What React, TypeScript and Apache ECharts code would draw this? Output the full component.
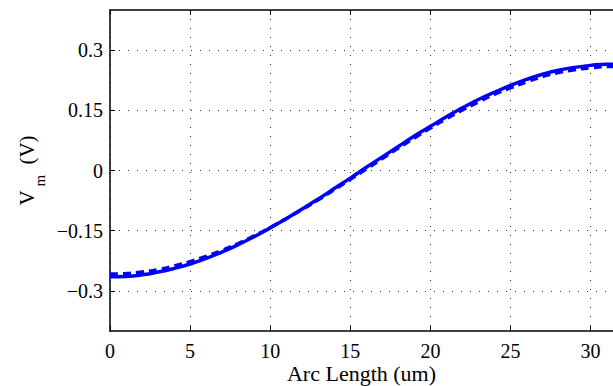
import React, { useEffect, useRef } from "react";
import * as echarts from "echarts";

const arcLength = [0, 1, 2, 3, 4, 5, 6, 7, 8, 9, 10, 11, 12, 13, 14, 15, 16, 17, 18, 19, 20, 21, 22, 23, 24, 25, 26, 27, 28, 29, 30, 31, 31.4];
const vmSolid = [-0.265, -0.264, -0.26, -0.253, -0.244, -0.233, -0.219, -0.203, -0.185, -0.165, -0.143, -0.12, -0.096, -0.071, -0.045, -0.019, 0.008, 0.034, 0.06, 0.086, 0.11, 0.134, 0.156, 0.177, 0.195, 0.212, 0.227, 0.24, 0.25, 0.257, 0.262, 0.265, 0.265];
const vmDashed = [-0.258, -0.257, -0.253, -0.247, -0.238, -0.227, -0.214, -0.199, -0.182, -0.163, -0.142, -0.12, -0.097, -0.073, -0.048, -0.022, 0.004, 0.03, 0.056, 0.081, 0.106, 0.129, 0.151, 0.171, 0.19, 0.206, 0.221, 0.234, 0.244, 0.251, 0.256, 0.259, 0.259];
const yTicks = [-0.3, -0.15, 0, 0.15, 0.3];

const FONT = "'Liberation Serif', 'Times New Roman', serif";

export default function App() {
  const ref = useRef<HTMLDivElement>(null);
  useEffect(() => {
    if (!ref.current) return;
    const chart = echarts.init(ref.current, undefined, { renderer: "svg" });
    const fmtY = (v: number) => {
      const s = Math.abs(v) < 1e-9 ? "0" : String(Math.round(v * 100) / 100);
      return s.replace("-", "\u2212");
    };
    chart.setOption({
      animation: false,
      backgroundColor: "#fff",
      grid: { left: 110, right: 0, top: 10, bottom: 55, outerBoundsMode: "none", containLabel: false },
      xAxis: [
        {
          type: "value",
          min: 0,
          max: 31.4,
          interval: 5,
          name: "Arc Length (um)",
          nameLocation: "middle",
          nameGap: 31,
          nameMoveOverlap: false,
          nameTextStyle: { fontFamily: FONT, fontSize: 22, lineHeight: 22, color: "#000" },
          axisLine: { show: true, onZero: false, lineStyle: { color: "#000", width: 1.5 } },
          axisTick: { show: true, inside: true, length: 5, lineStyle: { color: "#000" } },
          axisLabel: {
            fontFamily: FONT,
            fontSize: 20,
            lineHeight: 18,
            color: "#000",
            margin: 11,
            showMaxLabel: false,
            formatter: (v: number) => (v % 5 === 0 ? String(v) : ""),
          },
          splitLine: { show: true, lineStyle: { color: "#333", type: [1, 8], width: 1 } },
        },
        {
          type: "value",
          position: "top",
          min: 0,
          max: 31.4,
          interval: 5,
          axisLine: { show: true, onZero: false, lineStyle: { color: "#000", width: 1.5 } },
          axisTick: { show: true, inside: true, length: 5, lineStyle: { color: "#000" } },
          axisLabel: { show: false },
          splitLine: { show: false },
        },
      ],
      yAxis: {
        type: "value",
        min: -0.4,
        max: 0.4,
        name: "{a|V}{b|m}{a| (V)}",
        nameLocation: "middle",
        nameGap: 73,
        nameMoveOverlap: false,
        nameRotate: 90,
        nameTextStyle: {
          rich: {
            a: { fontFamily: FONT, fontSize: 21, color: "#000", verticalAlign: "bottom", lineHeight: 24 },
            b: { fontFamily: FONT, fontSize: 15, color: "#000", verticalAlign: "bottom", lineHeight: 24, padding: [0, 5, -10, 4] },
          },
        },
        axisLine: { show: true, onZero: false, lineStyle: { color: "#000", width: 1.5 } },
        axisTick: { show: true, inside: true, length: 5, customValues: yTicks, lineStyle: { color: "#000" } },
        axisLabel: { fontFamily: FONT, fontSize: 20, color: "#000", margin: 7, customValues: yTicks, formatter: fmtY },
        splitLine: { show: true, customValues: yTicks, lineStyle: { color: "#333", type: [1, 8], width: 1 } },
      },
      series: [
        {
          type: "line",
          data: arcLength.map((x, i) => [x, vmDashed[i]]),
          smooth: true,
          showSymbol: false,
          lineStyle: { color: "#0000ff", width: 3.5, type: [8, 5] },
        },
        {
          type: "line",
          data: arcLength.map((x, i) => [x, vmSolid[i]]),
          smooth: true,
          showSymbol: false,
          lineStyle: { color: "#0000ff", width: 3.5 },
        },
      ],
    });
    return () => chart.dispose();
  }, []);
  return <div ref={ref} style={{ width: 613, height: 386, position: "fixed", left: 0, top: 0 }} />;
}
